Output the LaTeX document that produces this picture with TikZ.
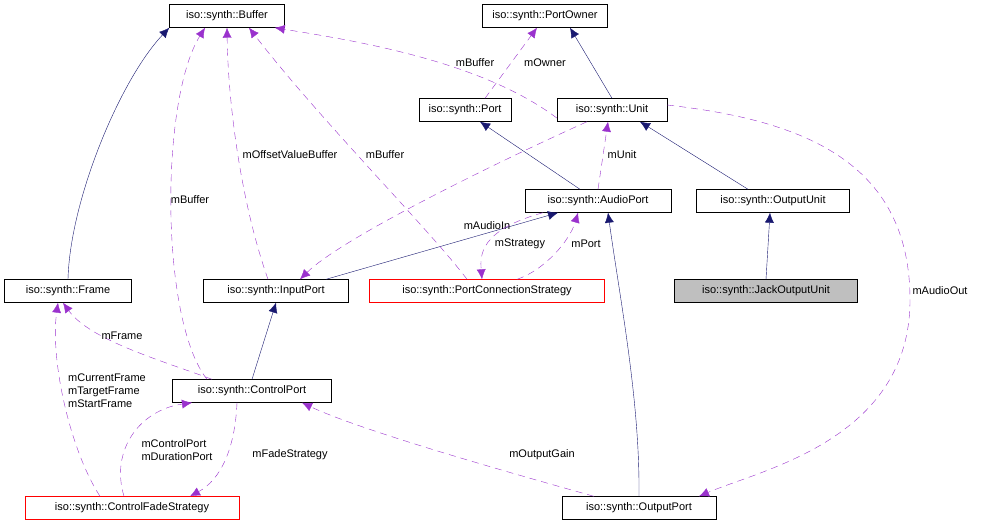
\documentclass[tikz,border=0pt]{standalone}
\usepackage{fontspec}
\setmainfont{Liberation Sans}
\usetikzlibrary{arrows.meta}
\definecolor{navyedge}{HTML}{191970}
\definecolor{useedge}{HTML}{9A32CD}
\begin{document}
\begin{tikzpicture}[x=1pt,y=-1pt,
    cls/.style={draw, rectangle, font=\fontsize{11}{13}\selectfont, minimum height=23pt, minimum width=#1, inner sep=2pt},
    cls/.default=100pt,
    bad/.style={cls=#1, draw=red},
    inherit/.style={navyedge, -{Latex[length=10pt,width=9pt]}},
    uses/.style={useedge, dashed, dash pattern=on 7pt off 5pt, -{Latex[length=10pt,width=9pt]}},
    lbl/.style={font=\fontsize{11}{13}\selectfont, align=left, inner sep=1pt}]
    \useasboundingbox (0,0) rectangle (981,528);
    % classes
    \node[cls=115pt] (buffer) at (227,16) {iso::synth::Buffer};
    \node[cls=125pt] (owner) at (545,16) {iso::synth::PortOwner};
    \node[cls=92pt] (port) at (465,110) {iso::synth::Port};
    \node[cls=110pt] (unit) at (612,110) {iso::synth::Unit};
    \node[cls=146pt] (audio) at (598,201) {iso::synth::AudioPort};
    \node[cls=153pt] (outunit) at (773,201) {iso::synth::OutputUnit};
    \node[cls=127pt] (frame) at (68,291) {iso::synth::Frame};
    \node[cls=145pt] (input) at (276,291) {iso::synth::InputPort};
    \node[bad=235pt] (pcs) at (487,291) {iso::synth::PortConnectionStrategy};
    \node[cls=183pt, fill=black!25] (jack) at (766,291) {iso::synth::JackOutputUnit};
    \node[cls=159pt] (control) at (252,391) {iso::synth::ControlPort};
    \node[bad=214pt] (fade) at (132,508) {iso::synth::ControlFadeStrategy};
    \node[cls=154pt] (outport) at (639,508) {iso::synth::OutputPort};

    % inheritance
    \draw[inherit] (frame.north) .. controls (70,200) and (120,80) .. (buffer.south west);
    \draw[inherit] (unit.north) -- ([xshift=25pt]owner.south);
    \draw[inherit] ([xshift=-18pt]audio.north) -- ([xshift=15pt]port.south);
    \draw[inherit] ([xshift=-25pt]outunit.north) -- ([xshift=28pt]unit.south);
    \draw[inherit] (jack.north) -- ([xshift=-3pt]outunit.south);
    \draw[inherit] ([xshift=50pt]input.north) -- ([xshift=-40pt]audio.south);
    \draw[inherit] (control.north) -- (input.south);
    \draw[inherit] (outport.north) .. controls (640,400) and (620,300) .. ([xshift=10pt]audio.south);

    % usage
    \draw[uses] ([yshift=-8pt]unit.west) .. controls (480,60) and (350,40) .. ([xshift=-10pt]buffer.south east);
    \node[lbl] at (475,63) {mBuffer};
    \draw[uses] ([xshift=20pt]port.north) -- ([xshift=-8pt]owner.south);
    \node[lbl] at (545,63) {mOwner};
    \draw[uses] ([xshift=-8pt]input.north) .. controls (240,200) and (228,100) .. (buffer.south);
    \node[lbl] at (290,155) {mOffsetValueBuffer};
    \draw[uses] ([xshift=-20pt]pcs.north) .. controls (430,230) and (320,120) .. ([xshift=22pt]buffer.south);
    \node[lbl] at (385,155) {mBuffer};
    \draw[uses] ([xshift=-45pt]control.north) .. controls (160,320) and (160,100) .. ([xshift=-22pt]buffer.south);
    \node[lbl] at (190,200) {mBuffer};
    \draw[uses] (audio.north) -- ([xshift=-4pt]unit.south);
    \node[lbl] at (622,155) {mUnit};
    \draw[uses] ([xshift=-25pt]unit.south) .. controls (480,170) and (340,240) .. ([xshift=24pt]input.north);
    \node[lbl] at (487,226) {mAudioIn};
    \draw[uses] ([xshift=-55pt]audio.south) .. controls (480,230) and (480,255) .. ([xshift=-5pt]pcs.north);
    \node[lbl] at (520,244) {mStrategy};
    \draw[uses] ([xshift=30pt]pcs.north) .. controls (545,270) and (570,240) .. ([xshift=-20pt]audio.south);
    \node[lbl] at (586,244) {mPort};
    \draw[uses] ([yshift=5pt]unit.east) .. controls (800,120) and (910,160) .. (910,300)
        .. controls (910,440) and (760,470) .. ([xshift=60pt]outport.north);
    \node[lbl, fill=white] at (940,291) {mAudioOut};
    \draw[uses] ([xshift=-40pt]control.north) .. controls (160,360) and (90,340) .. ([xshift=-5pt]frame.south);
    \node[lbl] at (122,336) {mFrame};
    \draw[uses] ([xshift=-32pt]fade.north) .. controls (70,450) and (50,360) .. ([xshift=-10pt]frame.south);
    \node[lbl] at (107,391) {mCurrentFrame\\mTargetFrame\\mStartFrame};
    \draw[uses] ([xshift=-8pt]fade.north) .. controls (110,450) and (140,410) .. ([xshift=-60pt]control.south);
    \node[lbl] at (177,450) {mControlPort\\mDurationPort};
    \draw[uses] ([xshift=-15pt]control.south) .. controls (235,450) and (220,480) .. ([xshift=58pt]fade.north);
    \node[lbl] at (290,455) {mFadeStrategy};
    \draw[uses] ([xshift=-45pt]outport.north) .. controls (500,470) and (360,430) .. ([xshift=50pt]control.south);
    \node[lbl] at (542,455) {mOutputGain};
\end{tikzpicture}
\end{document}
